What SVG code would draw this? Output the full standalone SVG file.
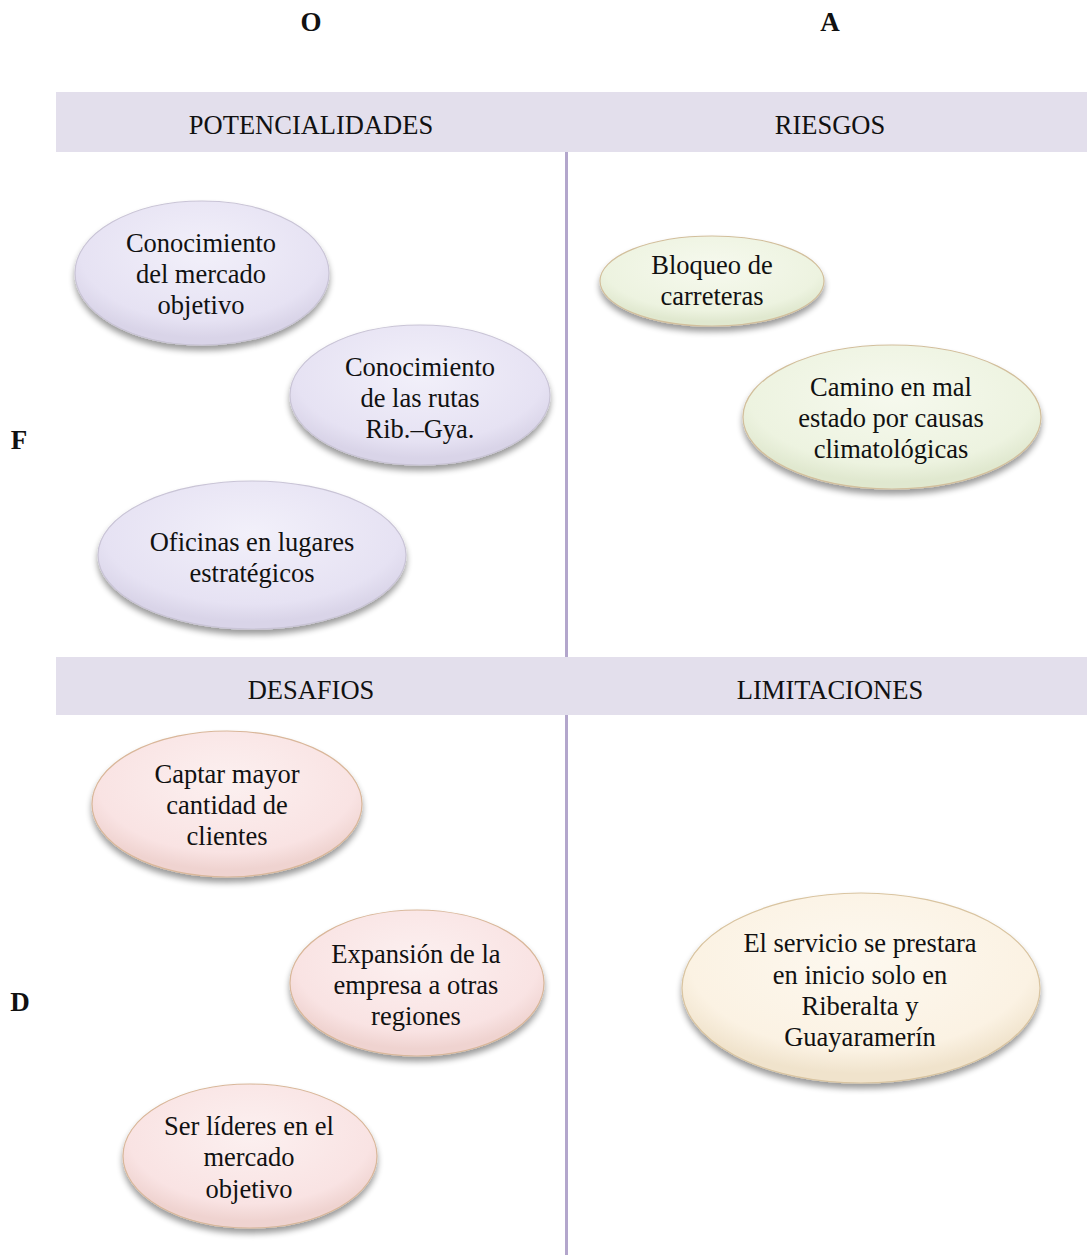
<svg xmlns="http://www.w3.org/2000/svg" width="1087" height="1255" viewBox="0 0 1087 1255">
<style>
.band{fill:#e3dfec}
.vline{stroke:#b3a6cc;stroke-width:3}
.hdr{font-family:"Liberation Serif","Times New Roman",serif;font-size:26.5px;fill:#111;text-anchor:middle}
.lbl{font-family:"Liberation Serif","Times New Roman",serif;font-size:27px;fill:#111;font-weight:bold;text-anchor:middle}
.txt{font-family:"Liberation Serif","Times New Roman",serif;font-size:26.5px;fill:#111;text-anchor:middle}
.lav{fill:url(#gLav);stroke:#c9c4d6;stroke-width:1.2;filter:url(#sh)}
.grn{fill:url(#gGrn);stroke:#d2bf9c;stroke-width:1.2;filter:url(#sh)}
.pnk{fill:url(#gPnk);stroke:#d9b79a;stroke-width:1.2;filter:url(#sh)}
.crm{fill:url(#gCrm);stroke:#d9c4a0;stroke-width:1.2;filter:url(#sh)}
</style>
<defs>
<filter id="sh" x="-20%" y="-20%" width="140%" height="150%">
<feGaussianBlur in="SourceAlpha" stdDeviation="3"/>
<feOffset dx="0" dy="5" result="b"/>
<feComponentTransfer><feFuncA type="linear" slope="0.4"/></feComponentTransfer>
<feMerge><feMergeNode/><feMergeNode in="SourceGraphic"/></feMerge>
</filter>
<radialGradient id="gLav" cx="0.5" cy="0.35" r="0.6"><stop offset="0" stop-color="#f2f0fa"/><stop offset="0.8" stop-color="#e6e2f3"/><stop offset="1" stop-color="#d9d4e8"/></radialGradient>
<radialGradient id="gGrn" cx="0.5" cy="0.35" r="0.6"><stop offset="0" stop-color="#f6f9ee"/><stop offset="0.8" stop-color="#edf3e0"/><stop offset="1" stop-color="#e0e8cf"/></radialGradient>
<radialGradient id="gPnk" cx="0.5" cy="0.35" r="0.6"><stop offset="0" stop-color="#fcf0f0"/><stop offset="0.8" stop-color="#f9e3e3"/><stop offset="1" stop-color="#efd3d0"/></radialGradient>
<radialGradient id="gCrm" cx="0.5" cy="0.35" r="0.6"><stop offset="0" stop-color="#fdf8ef"/><stop offset="0.8" stop-color="#fbf2e3"/><stop offset="1" stop-color="#f0e3cc"/></radialGradient>
</defs>
<rect width="1087" height="1255" fill="#ffffff"/>

<g id="axis-labels">
<text class="lbl" x="311" y="31">O</text>
<text class="lbl" x="830" y="31">A</text>
<text class="lbl" x="19" y="449">F</text>
<text class="lbl" x="20" y="1011">D</text>
</g>

<g id="connectors">
<line class="vline" x1="566.5" y1="152" x2="566.5" y2="657"/>
<line class="vline" x1="566.5" y1="715" x2="566.5" y2="1255"/>
</g>

<g id="header-top">
<rect class="band" x="56" y="92" width="1031" height="60"/>
<text class="hdr" x="311" y="134">POTENCIALIDADES</text>
<text class="hdr" x="830" y="134">RIESGOS</text>
</g>
<g id="header-bottom">
<rect class="band" x="56" y="657" width="1031" height="58"/>
<text class="hdr" x="311" y="699">DESAFIOS</text>
<text class="hdr" x="830" y="699">LIMITACIONES</text>
</g>

<g id="n1">
<ellipse class="lav" cx="202" cy="273" rx="127" ry="72"/>
<text class="txt" x="201" y="252">Conocimiento</text>
<text class="txt" x="201" y="283">del mercado</text>
<text class="txt" x="201" y="314">objetivo</text>
</g>
<g id="n2">
<ellipse class="lav" cx="420" cy="395" rx="130" ry="70"/>
<text class="txt" x="420" y="376">Conocimiento</text>
<text class="txt" x="420" y="407">de las rutas</text>
<text class="txt" x="420" y="438">Rib.–Gya.</text>
</g>
<g id="n3">
<ellipse class="lav" cx="252" cy="555" rx="154" ry="74"/>
<text class="txt" x="252" y="551">Oficinas en lugares</text>
<text class="txt" x="252" y="582">estratégicos</text>
</g>
<g id="n4">
<ellipse class="grn" cx="712" cy="281" rx="112" ry="45"/>
<text class="txt" x="712" y="274">Bloqueo de</text>
<text class="txt" x="712" y="305">carreteras</text>
</g>
<g id="n5">
<ellipse class="grn" cx="892" cy="417" rx="149" ry="72"/>
<text class="txt" x="891" y="396">Camino en mal</text>
<text class="txt" x="891" y="427">estado por causas</text>
<text class="txt" x="891" y="458">climatológicas</text>
</g>
<g id="n6">
<ellipse class="pnk" cx="227" cy="804" rx="135" ry="73"/>
<text class="txt" x="227" y="783">Captar mayor</text>
<text class="txt" x="227" y="814">cantidad de</text>
<text class="txt" x="227" y="845">clientes</text>
</g>
<g id="n7">
<ellipse class="pnk" cx="417" cy="983" rx="127" ry="73"/>
<text class="txt" x="416" y="963">Expansión de la</text>
<text class="txt" x="416" y="994">empresa a otras</text>
<text class="txt" x="416" y="1025">regiones</text>
</g>
<g id="n8">
<ellipse class="pnk" cx="250" cy="1156" rx="127" ry="72"/>
<text class="txt" x="249" y="1135">Ser líderes en el</text>
<text class="txt" x="249" y="1166">mercado</text>
<text class="txt" x="249" y="1198">objetivo</text>
</g>
<g id="n9">
<ellipse class="crm" cx="861" cy="988" rx="179" ry="95"/>
<text class="txt" x="860" y="952">El servicio se prestara</text>
<text class="txt" x="860" y="984">en inicio solo en</text>
<text class="txt" x="860" y="1015">Riberalta y</text>
<text class="txt" x="860" y="1046">Guayaramerín</text>
</g>
</svg>
